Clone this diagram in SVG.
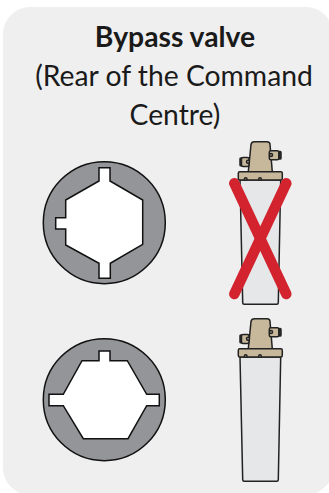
<svg xmlns="http://www.w3.org/2000/svg" width="329" height="493" viewBox="0 0 329 493">
<defs>
<style>
.t{font-family:"Lato","Noto Sans",sans-serif;font-size:28.300px;fill:#1a1a1a;text-anchor:middle}
.b{font-weight:700}
.o{stroke:#222;stroke-width:1.500;stroke-linejoin:round}
.c{fill:#c7b89c}
.ring{fill:#939598;stroke:#111;stroke-width:1.500}
.hole{fill:#fff;stroke:#111;stroke-width:1.500;stroke-linejoin:miter}
.x{stroke:#d2232e;stroke-width:10.500;stroke-linecap:round;fill:none}
</style>
<g id="filter">
<path class="o" fill="#e6e7e9" d="M240 180 H280.700 L278.300 302.800 Q278.300 304.300 276.800 304.300 H244.200 Q242.700 304.300 242.700 302.800 Z"/>
<rect class="o" fill="#333" x="278.800" y="151.500" width="2.200" height="7.500" rx="0.800"/>
<rect class="o" fill="#333" x="240" y="158" width="2.200" height="7.800" rx="0.800"/>
<path class="o c" d="M251 144.500 Q251.500 141.700 254.500 141.700 H267 Q270 141.700 270 144.500 L272.300 171.700 H248.300 Z"/>
<rect class="o c" x="269.300" y="150.800" width="9.500" height="9" rx="1.500"/>
<rect class="o c" x="241.500" y="157.500" width="7.500" height="9" rx="1.500"/>
<circle class="o c" cx="271" cy="155" r="1.500"/>
<circle class="o c" cx="248" cy="161.800" r="1.500"/>
<rect class="o c" x="238.300" y="171.700" width="44" height="8.300" rx="1.500"/>
<circle class="o c" cx="245.700" cy="179" r="1.300"/>
<circle class="o c" cx="260" cy="179" r="1.300"/>
</g>
</defs>
<rect id="panel" x="3" y="7" width="330" height="488" rx="27" fill="#efefef"/>
<g id="title">
<text class="t b" x="175" y="47">Bypass valve</text>
<text class="t" x="174" y="86">(Rear of the Command</text>
<text class="t" x="175" y="125">Centre)</text>
</g>
<g id="socket-top">
<circle class="ring" cx="104.300" cy="222.700" r="61"/>
<polygon class="hole" points="99,167.700 110,167.700 110,181 142.700,200 142.700,244.300 110.300,263.300 110.300,278.300 99,278.300 99,263.300 65.700,245 65.700,229 55.700,229 55.700,217.700 65.700,217.700 65.700,200 99,181"/>
</g>
<g id="socket-bottom">
<circle class="ring" cx="104.300" cy="399.700" r="61"/>
<polygon class="hole" points="99,351 110,351 110,360.700 127.300,360.700 146.700,394.300 159.300,394.300 159.300,405.700 146.700,405.700 128,438.700 83.300,438.700 63.300,405.700 49,405.700 49,394.300 63.300,394.300 82,360.700 99,360.700"/>
</g>
<g id="filter-top"><use href="#filter"/></g>
<g id="filter-bottom"><use href="#filter" y="177"/></g>
<g id="cross">
<line class="x" x1="234.300" y1="183.300" x2="286.300" y2="294"/>
<line class="x" x1="286.300" y1="183.300" x2="234.300" y2="294"/>
</g>
</svg>
